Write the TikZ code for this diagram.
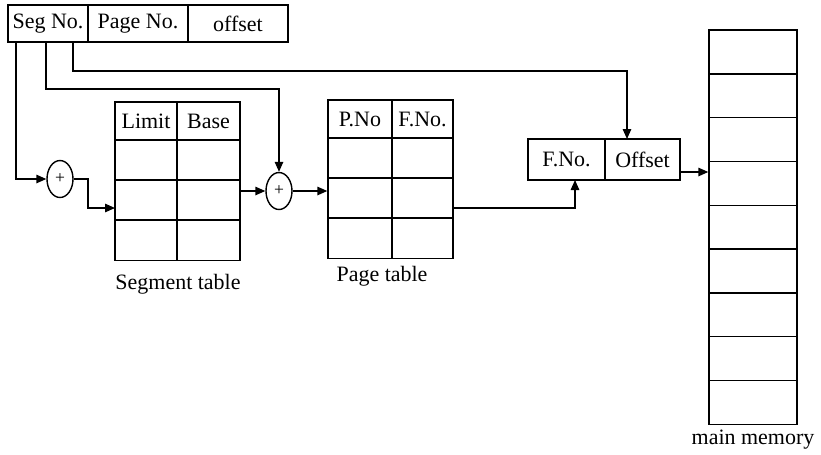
\documentclass[tikz,border=0pt]{standalone}
\usepackage{fontspec}
\setmainfont{Liberation Serif}
\usetikzlibrary{shapes.geometric, arrows.meta}
\tikzset{
  cell/.style={draw, thick, inner sep=0pt, minimum height=0.76cm},
  adder/.style={draw, thick, ellipse, inner sep=0pt, minimum width=0.52cm, minimum height=0.74cm, font=\fontsize{10}{11}\selectfont}
}
\begin{document}
\begin{tikzpicture}[>={Triangle[length=2mm, width=1.7mm]}, x=0.02cm, y=-0.02cm, font=\fontsize{12.5}{14}\selectfont]
\useasboundingbox (0,0) rectangle (821,454);
% logical address
\node[cell, minimum width=1.6cm, minimum height=0.74cm] (segno) at (48,23.5) {Seg No.};
\node[cell, minimum width=2cm, minimum height=0.74cm] (pageno) at (138,23.5) {Page No.};
\node[cell, minimum width=2cm, minimum height=0.74cm] (offset) at (238,23.5) {offset};
% adders
\node[adder] (add1) at (60,179) {+};
\node[adder] (add2) at (279,191) {+};
% segment table
\node[cell, minimum width=1.24cm] (seg-1-1) at (146,121) {Limit};
\node[cell, minimum width=1.26cm] (seg-1-2) at (208.5,121) {Base};
\foreach \r/\y in {2/160,3/199.5,4/240.5}{
  \node[cell, minimum width=1.24cm, minimum height=0.8cm] (seg-\r-1) at (146,\y) {};
  \node[cell, minimum width=1.26cm, minimum height=0.8cm] (seg-\r-2) at (208.5,\y) {};
}
\node (seglabel) at (178,284) {Segment table};
% page table
\node[cell, minimum width=1.28cm, minimum height=0.76cm] (pg-1-1) at (360,119) {P.No};
\node[cell, minimum width=1.22cm, minimum height=0.76cm] (pg-1-2) at (422.5,119) {F.No.};
\foreach \r/\y in {2/158,3/198,4/238.5}{
  \node[cell, minimum width=1.28cm, minimum height=0.8cm] (pg-\r-1) at (360,\y) {};
  \node[cell, minimum width=1.22cm, minimum height=0.8cm] (pg-\r-2) at (422.5,\y) {};
}
\node (pglabel) at (382,276) {Page table};
% physical address
\node[cell, minimum width=1.54cm, minimum height=0.82cm] (fno) at (566.5,159.5) {F.No.};
\node[cell, minimum width=1.5cm, minimum height=0.82cm] (offs) at (642.5,159.5) {Offset};
% main memory
\foreach \i in {1,...,9}{
  \node[cell, minimum width=1.76cm, minimum height=0.876cm] (mem-\i) at (753,{30+43.8*(\i-0.5)}) {};
}
\node (memlabel) at (753,440) {main memory};
% connection points
\coordinate (segA) at (16,42);
\coordinate (segB) at (46,42);
\coordinate (segC) at (73,42);
\coordinate (segin) at (115,208);
\coordinate (offin) at (627,139);
\coordinate (pgout) at (453,208);
\coordinate (fin) at (575,180);
\coordinate (physout) at (680,172);
% connectors
\draw[thick, ->] (segA) |- (add1.west);
\draw[thick, ->] (add1.east) -- (88,179) |- (segin);
\draw[thick, ->] (segB) -- (46,89) -| (add2.north);
\draw[thick, ->] (seg-3-2.east |- add2.west) -- (add2.west);
\draw[thick, ->] (add2.east) -- (add2.east -| pg-1-1.west);
\draw[thick, ->] (segC) -- (73,71) -| (offin);
\draw[thick, ->] (pgout) -| (fin);
\draw[thick, ->] (physout) -- (physout -| mem-1.west);
\end{tikzpicture}
\end{document}
